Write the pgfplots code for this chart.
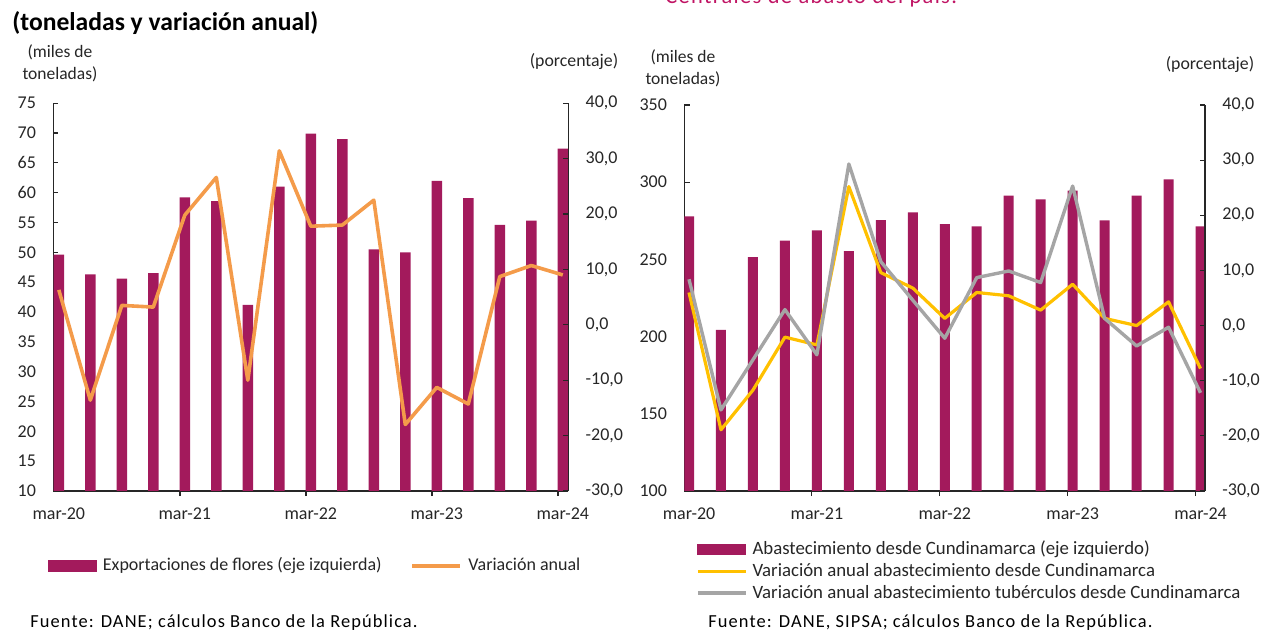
\documentclass[border=0pt]{standalone}
\usepackage{pgfplots}
\pgfplotsset{compat=1.18}
\usepackage{fontspec}
\setmainfont{Carlito}
\newfontfamily\fuentefont[LetterSpace=6]{Carlito}
\definecolor{barc}{RGB}{163,26,92}
\definecolor{orangec}{RGB}{244,155,74}
\definecolor{yellowc}{RGB}{255,192,0}
\definecolor{grayc}{RGB}{165,165,165}
\definecolor{titlec}{RGB}{192,20,100}
\definecolor{axc}{RGB}{38,38,38}

\pgfplotsset{
  base/.style={
    scale only axis, anchor=south west,
    axis line style={axc, line width=0.6pt},
    tick style={axc, line width=0.6pt},
    tick align=inside, major tick length=2.6pt,
    ticklabel style={font=\fontsize{9}{10}\selectfont, text=axc},
    /pgf/number format/assume math mode=true,
  },
  barleg/.style={legend image code/.code={\fill[barc] (0pt,-2.6pt) rectangle (24pt,2.6pt);}},
  lineleg/.style={legend image code/.code={\draw[##1] (0pt,0pt) -- (24pt,0pt);}},
}

\begin{document}
\begin{tikzpicture}[x=0.5pt,y=0.5pt]
\useasboundingbox (0,0) rectangle (1263,631);
\begin{scope}
\clip (0,0) rectangle (1263,631);
\node[anchor=base west, inner sep=0, text=titlec, font=\fontsize{11.2}{12}\selectfont\fuentefont] at (665,627) {Centrales de abasto del país.};
\end{scope}

% ---------- titles / labels ----------
\node[anchor=base west, inner sep=0, font=\fontsize{12.8}{13}\selectfont\bfseries] at (12,600) {(toneladas y variación anual)};
\node[align=center, inner sep=0, font=\fontsize{8.75}{11}\selectfont, text=axc] at (60,568) {(miles de\\toneladas)};
\node[inner sep=0, font=\fontsize{8.9}{11}\selectfont, text=axc] at (574,569) {(porcentaje)};
\node[align=center, inner sep=0, font=\fontsize{8.75}{11}\selectfont, text=axc] at (683,563) {(miles de\\toneladas)};
\node[inner sep=0, font=\fontsize{8.9}{11}\selectfont, text=axc] at (1210,566) {(porcentaje)};
\node[anchor=west, inner sep=0, font=\fontsize{9.2}{10}\selectfont\fuentefont] at (30,8) {Fuente: DANE; cálculos Banco de la República.};
\node[anchor=west, inner sep=0, font=\fontsize{9.2}{10}\selectfont\fuentefont] at (708,8) {Fuente: DANE, SIPSA; cálculos Banco de la República.};

% ---------- LEFT CHART ----------
\begin{axis}[base, at={(26.65pt,70pt)}, width=257.5pt, height=193.9pt,
  xmin=-0.175, xmax=16.175, ymin=10, ymax=75,
  ytick={10,15,...,75},
  yticklabel style={anchor=east, inner sep=0pt, xshift=-8.5pt},
  axis x line*=bottom, axis y line*=left,
  xtick={3.85,7.85,11.85,15.85}, xticklabels={},
  major tick length=2.6pt,
  extra x ticks={0,4,8,12,16},
  extra x tick labels={mar-20,mar-21,mar-22,mar-23,mar-24},
  extra x tick style={major tick length=0pt, xticklabel style={anchor=north, inner sep=0pt, yshift=-8pt}},
  ybar, bar width=5.25pt]
\addplot[fill=barc, draw=none] coordinates {
(0,49.6)(1,46.3)(2,45.6)(3,46.5)(4,59.2)(5,58.6)(6,41.2)(7,61.0)(8,69.9)
(9,69.0)(10,50.5)(11,50.0)(12,62.0)(13,59.1)(14,54.6)(15,55.3)(16,67.4)};
\end{axis}
\begin{axis}[base, at={(26.65pt,70pt)}, width=257.5pt, height=193.9pt,
  xmin=-0.175, xmax=16.175, ymin=-30, ymax=40,
  ytick={-30,-20,...,40},
  yticklabel style={anchor=west, inner sep=0pt, xshift=8.5pt, /pgf/number format/.cd, fixed, fixed zerofill, precision=1, use comma},
  axis y line*=right, axis x line=none,
  legend columns=2,
  legend style={at={(-0.012,-0.193)}, anchor=west, draw=none, fill=none, inner sep=0pt,
     font=\fontsize{9}{10}\selectfont, text=axc,
     nodes={inner xsep=3.3pt},
     /tikz/every even column/.append style={column sep=11pt}},
  legend cell align=left]
\addlegendimage{barleg}
\addlegendentry{Exportaciones de flores (eje izquierda)}
\addplot[orangec, line width=1.8pt, line join=round, lineleg] coordinates {
(0,6.3)(1,-13.6)(2,3.5)(3,3.2)(4,19.8)(5,26.6)(6,-10.0)(7,31.4)(8,17.8)
(9,18.0)(10,22.5)(11,-18.0)(12,-11.3)(13,-14.3)(14,8.7)(15,10.7)(16,9.0)};
\addlegendentry{Variación anual}
\end{axis}

% ---------- RIGHT CHART ----------
\begin{axis}[base, at={(342.15pt,70pt)}, width=260.35pt, height=193pt,
  xmin=-0.147, xmax=16.14, ymin=100, ymax=350,
  ytick={100,150,...,350},
  yticklabel style={anchor=east, inner sep=0pt, xshift=-8.5pt},
  axis x line*=bottom, axis y line*=left,
  xtick={3.84,7.84,11.84,15.84}, xticklabels={},
  extra x ticks={0,4,8,12,16},
  extra x tick labels={mar-20,mar-21,mar-22,mar-23,mar-24},
  extra x tick style={major tick length=0pt, xticklabel style={anchor=north, inner sep=0pt, yshift=-8pt}},
  ybar, bar width=5pt]
\addplot[fill=barc, draw=none] coordinates {
(0,277.9)(1,204.3)(2,251.4)(3,262.1)(4,268.8)(5,255.4)(6,275.5)(7,280.5)(8,272.9)
(9,271.4)(10,291.3)(11,288.9)(12,294.5)(13,275.3)(14,291.3)(15,301.9)(16,271.4)};
\end{axis}
\begin{axis}[base, at={(342.15pt,70pt)}, width=260.35pt, height=193pt,
  xmin=-0.147, xmax=16.14, ymin=-30, ymax=40,
  ytick={-30,-20,...,40},
  yticklabel style={anchor=west, inner sep=0pt, xshift=8.5pt, /pgf/number format/.cd, fixed, fixed zerofill, precision=1, use comma},
  axis y line*=right, axis x line=none,
  legend columns=1,
  legend style={at={(0.022,-0.118)}, anchor=north west, draw=none, fill=none, inner sep=0pt,
     font=\fontsize{9.4}{10}\selectfont, text=axc, row sep=-1.2pt,
     nodes={inner xsep=2.5pt}},
  legend cell align=left]
\addlegendimage{barleg}
\addlegendentry{Abastecimiento desde Cundinamarca (eje izquierdo)}
\addplot[yellowc, line width=1.6pt, line join=round, lineleg] coordinates {
(0,6.0)(1,-18.9)(2,-11.7)(3,-2.1)(4,-3.5)(5,25.2)(6,9.6)(7,6.8)(8,1.3)
(9,6.0)(10,5.4)(11,2.8)(12,7.5)(13,1.3)(14,0.0)(15,4.3)(16,-7.8)};
\addlegendentry{Variación anual abastecimiento desde Cundinamarca}
\addplot[grayc, line width=1.7pt, line join=round, lineleg] coordinates {
(0,8.4)(1,-15.3)(2,-6.2)(3,2.9)(4,-5.3)(5,29.3)(6,11.6)(7,4.6)(8,-2.3)
(9,8.7)(10,9.9)(11,7.8)(12,25.3)(13,1.3)(14,-3.7)(15,-0.3)(16,-12.2)};
\addlegendentry{Variación anual abastecimiento tubérculos desde Cundinamarca}
\end{axis}
\end{tikzpicture}
\end{document}
